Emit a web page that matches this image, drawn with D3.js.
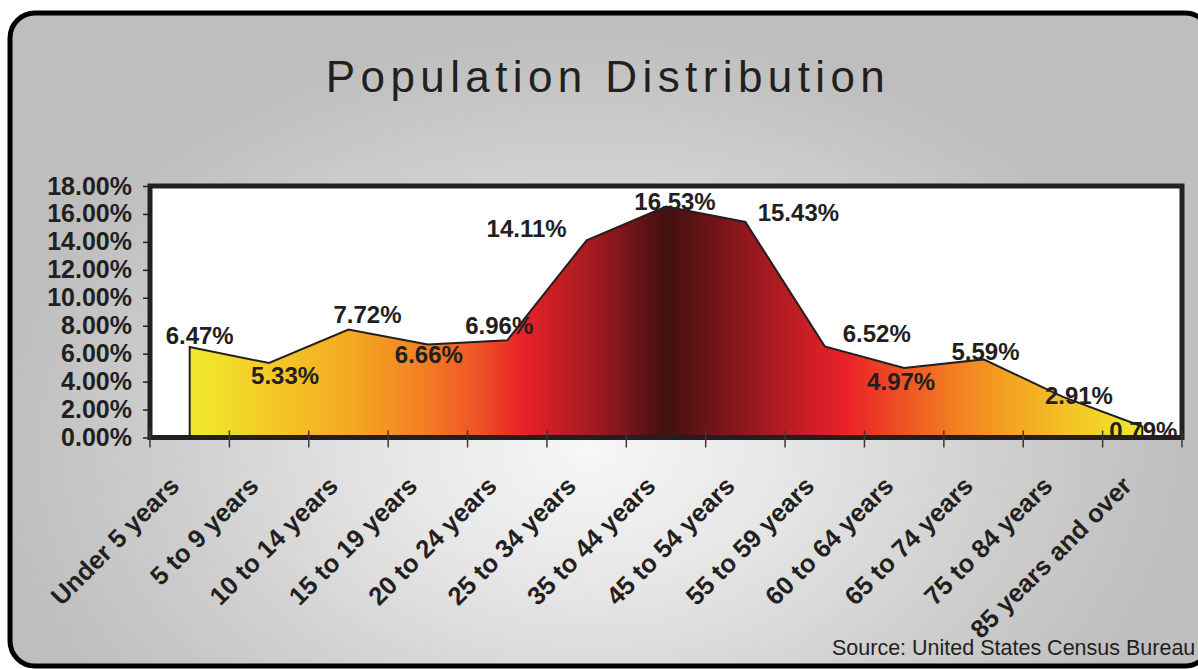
<!DOCTYPE html>
<html>
<head>
<meta charset="utf-8">
<script src="https://cdn.jsdelivr.net/npm/d3@7"></script>
<style>
    body { margin: 0; background: #ffffff; }
    #chart { width: 1198px; height: 669px; overflow: hidden; }
    text { font-family: Arial, "Liberation Sans", Helvetica, sans-serif; fill: #231f20; }
</style>
</head>
<body>
<div id="chart"></div>
<script>
//Datos
const edades = ['Under 5 years', '5 to 9 years', '10 to 14 years', '15 to 19 years', '20 to 24 years',
    '25 to 34 years', '35 to 44 years', '45 to 54 years', '55 to 59 years', '60 to 64 years',
    '65 to 74 years', '75 to 84 years', '85 years and over'];
const valores = [6.47, 5.33, 7.72, 6.66, 6.96, 14.11, 16.53, 15.43, 6.52, 4.97, 5.59, 2.91, 0.79];
const ticksY = [0, 2, 4, 6, 8, 10, 12, 14, 16, 18];

//Desplazamiento de las etiquetas respecto a cada punto (como en el original)
const desplEtiquetas = [[10, -12], [16, 12], [19, -15], [1, 10], [-8, -15], [-60, -12], [9, -5],
    [53, -10], [52, -13], [-3, 13], [2, -8], [16, -1], [1, 4]];

//Colores fijos
const COLOR_TEXT = '#231f20';

let width = 1198, height = 669;
let margin = {top: 186, right: 17, bottom: 231.5, left: 150};

let svg = d3.select('#chart')
    .append('svg')
    .attr('width', width)
    .attr('height', height);

let defs = svg.append('defs');

//Fondo gris con degradado radial
let fondo = defs.append('radialGradient')
    .attr('id', 'fondo')
    .attr('gradientUnits', 'userSpaceOnUse')
    .attr('cx', 0).attr('cy', 0).attr('r', 1)
    .attr('gradientTransform', 'translate(590,450) scale(600,420)');
[[0, '#f6f7f6'], [0.35, '#e4e5e4'], [0.7, '#cdcecd'], [1, '#bebebe']].forEach(function(s) {
    fondo.append('stop').attr('offset', s[0]).attr('stop-color', s[1]);
});

svg.append('rect')
    .attr('x', 10).attr('y', 13)
    .attr('width', 1200).attr('height', 653)
    .attr('rx', 25).attr('ry', 25)
    .attr('fill', 'url(#fondo)')
    .attr('stroke', '#000')
    .attr('stroke-width', 5);

//Título
svg.append('text')
    .attr('x', 608)
    .attr('y', 92)
    .attr('text-anchor', 'middle')
    .style('font-size', '44px')
    .style('letter-spacing', '5.4px')
    .text('Population Distribution');

let w = width - margin.left - margin.right,
    h = height - margin.top - margin.bottom;

let g = svg.append('g')
    .attr('transform', 'translate(' + margin.left + ',' + margin.top + ')');

let x = d3.scaleBand()
    .domain(edades)
    .range([0, 1032]);

let y = d3.scaleLinear()
    .domain([0, 18])
    .range([h, 0]);

let cx = function(i) { return x(edades[i]) + x.bandwidth() / 2; };

//Área blanca del gráfico
g.append('rect')
    .attr('width', x.range()[1])
    .attr('height', h)
    .attr('fill', '#fff');

//Degradado horizontal del área
let grad = defs.append('linearGradient')
    .attr('id', 'areaGrad')
    .attr('gradientUnits', 'userSpaceOnUse')
    .attr('x1', cx(0)).attr('x2', cx(edades.length - 1))
    .attr('y1', 0).attr('y2', 0);
[[0, '#f2ea2b'], [0.17, '#f5a822'], [0.25, '#f27c22'], [0.3, '#ef5526'], [0.35, '#e92128'],
 [0.43, '#9c1a1e'], [0.5, '#421010'], [0.58, '#8c181c'], [0.66, '#d51f27'], [0.69, '#ea2228'],
 [0.8, '#f27c22'], [0.86, '#f4a322'], [1, '#f2ea2b']].forEach(function(s) {
    grad.append('stop').attr('offset', s[0]).attr('stop-color', s[1]);
});

let datos = valores.map(function(v, i) { return {edad: edades[i], valor: v, i: i}; });

let area = d3.area()
    .x(function(d) { return cx(d.i); })
    .y0(y(0))
    .y1(function(d) { return y(d.valor); });

g.append('path')
    .datum(datos)
    .attr('d', area)
    .attr('fill', 'url(#areaGrad)')
    .attr('stroke', COLOR_TEXT)
    .attr('stroke-width', 2)
    .attr('stroke-linejoin', 'miter');

//Marco
g.append('rect')
    .attr('width', x.range()[1])
    .attr('height', h)
    .attr('fill', 'none')
    .attr('stroke', COLOR_TEXT)
    .attr('stroke-width', 5);

//Eje Y
let yAxis = g.append('g')
    .call(d3.axisLeft(y).tickValues(ticksY).tickSize(7).tickPadding(11)
        .tickFormat(function(d) { return d3.format('.2f')(d) + '%'; }));
yAxis.select('.domain').remove();
yAxis.selectAll('line').attr('stroke', COLOR_TEXT).attr('stroke-width', 1.5);
yAxis.selectAll('text')
    .attr('fill', COLOR_TEXT)
    .style('font-size', '25px')
    .style('font-weight', 'bold')
    .style('font-family', 'Arial, "Liberation Sans", sans-serif');

//Eje X: marcas en los límites de cada categoría
g.append('g')
    .selectAll('line')
    .data(d3.range(edades.length + 1))
    .enter()
    .append('line')
    .attr('x1', function(d) { return d * x.bandwidth(); })
    .attr('x2', function(d) { return d * x.bandwidth(); })
    .attr('y1', h - 7)
    .attr('y2', h + 10)
    .attr('stroke', '#3a3a3a')
    .attr('stroke-width', 1.5);

g.append('g')
    .selectAll('text')
    .data(edades)
    .enter()
    .append('text')
    .attr('transform', function(d, i) { return 'translate(' + (cx(i) - 9) + ',' + (h + 50) + ') rotate(-45)'; })
    .attr('text-anchor', 'end')
    .style('font-size', '25.5px')
    .style('font-weight', 'bold')
    .text(function(d) { return d; });

//Etiquetas de valores
g.append('g')
    .selectAll('text')
    .data(datos)
    .enter()
    .append('text')
    .attr('x', function(d) { return cx(d.i) + desplEtiquetas[d.i][0]; })
    .attr('y', function(d) { return y(d.valor) + desplEtiquetas[d.i][1]; })
    .attr('dy', '0.36em')
    .attr('text-anchor', 'middle')
    .style('font-size', '24px')
    .style('font-weight', 'bold')
    .text(function(d) { return d3.format('.2f')(d.valor) + '%'; });

//Fuente
svg.append('text')
    .attr('x', 832)
    .attr('y', 655)
    .style('font-size', '21.5px')
    .text('Source: United States Census Bureau');
</script>
</body>
</html>
